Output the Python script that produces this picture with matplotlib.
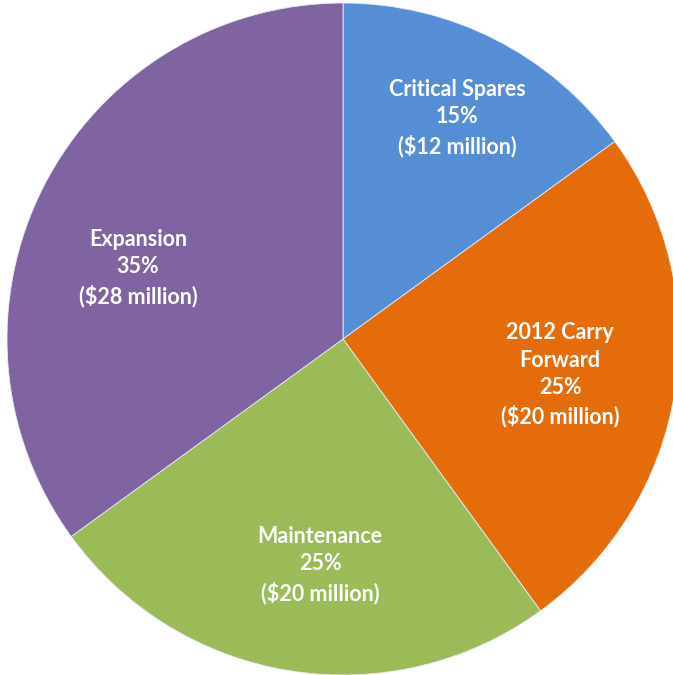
import matplotlib
matplotlib.use("Agg")
import matplotlib.pyplot as plt

# budget split
categories = ["Critical Spares", "2012 Carry\nForward", "Maintenance", "Expansion"]
percents = [15, 25, 25, 35]
millions = [12, 20, 20, 28]
colors = ["#558ED5", "#E46C0A", "#9BBB59", "#8064A2"]

# label anchors, in pixels from the top-left corner
label_xy = [(457, 118), (560, 375), (320, 565), (138, 268)]

W, H = 673, 675
CX, CY, R = 343, 339, 336

fig = plt.figure(figsize=(W / 100, H / 100), dpi=100)
ax = fig.add_axes([0, 0, 1, 1])

ax.pie(
    millions,
    colors=colors,
    startangle=90,
    counterclock=False,
    center=(CX, H - CY),
    radius=R,
    wedgeprops=dict(edgecolor="#E8ECF4", linewidth=0.6),
)
ax.set_aspect("auto")
ax.set_xlim(0, W)
ax.set_ylim(0, H)
ax.axis("off")

for name, pct, amt, (x, y) in zip(categories, percents, millions, label_xy):
    ax.text(
        x, H - y,
        f"{name}\n{pct}%\n(${amt} million)",
        ha="center", va="center",
        color="white", fontsize=15.5, fontweight="bold",
        family="Lato", linespacing=1.38,
    )

fig.savefig("out.png", dpi=100)
